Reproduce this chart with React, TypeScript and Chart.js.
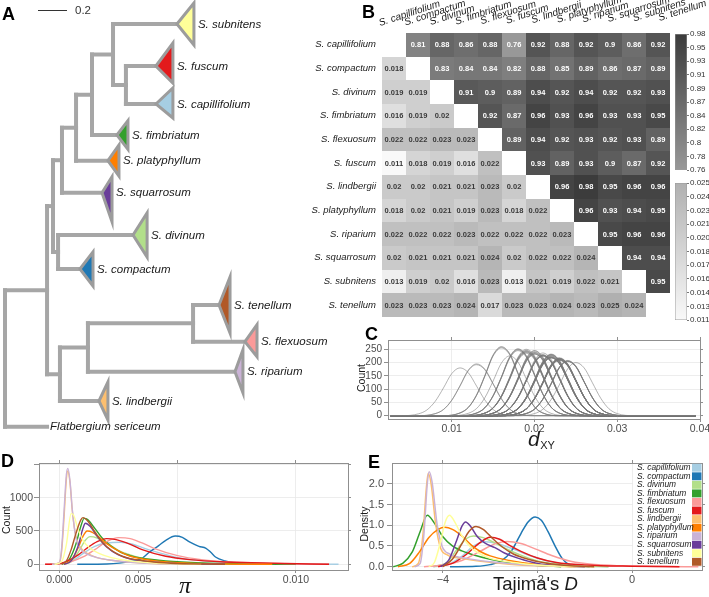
import React, { useEffect, useRef } from "react";
import { Chart, registerables } from "chart.js";

Chart.register(...registerables);

const SANS = '"Liberation Sans", Arial, Helvetica, sans-serif';
const SERIF = '"Liberation Serif", "DejaVu Serif", serif';
const TICK_TEXT = "#4d4d4d";
const FRAME = "#8f8f8f";
const GRID = "#e8e8e8";
const TREE_GREY = "#a6a6a6";
const TRI_GREY = "#9c9c9c";
Chart.defaults.font.family = SANS;

// ---------------- shared data ----------------
const species = [
  "S. capillifolium", "S. compactum", "S. divinum", "S. fimbriatum", "S. flexuosum", "S. fuscum",
  "S. lindbergii", "S. platyphyllum", "S. riparium", "S. squarrosum", "S. subnitens", "S. tenellum",
];
const speciesColors = [
  "#A6CEE3", "#1F78B4", "#B2DF8A", "#33A02C", "#FB9A99", "#E31A1C",
  "#FDBF6F", "#FF7F00", "#CAB2D6", "#6A3D9A", "#FFFF99", "#B15928",
];

// ---------------- panel A: tree ----------------
// [child, parent, branch length]
const treeEdges: [string, string, number][] = [
  ["Flatbergium sericeum", "root", 0.29],
  ["n1", "root", 0.29],
  ["n2", "n1", 0.041],
  ["n9", "n1", 0.089],
  ["n3", "n2", 0.035],
  ["n4", "n2", 0.062],
  ["S. divinum", "n3", 0.517],
  ["S. compactum", "n3", 0.151],
  ["S. squarrosum", "n4", 0.276],
  ["n5", "n4", 0.097],
  ["S. platyphyllum", "n5", 0.22],
  ["n6", "n5", 0.11],
  ["S. fimbriatum", "n6", 0.172],
  ["n7", "n6", 0.145],
  ["S. subnitens", "n7", 0.441],
  ["n8", "n7", 0.089],
  ["S. fuscum", "n8", 0.207],
  ["S. capillifolium", "n8", 0.207],
  ["S. lindbergii", "n9", 0.269],
  ["n10", "n9", 0.193],
  ["S. riparium", "n10", 1.014],
  ["n11", "n10", 0.725],
  ["S. tenellum", "n11", 0.179],
  ["S. flexuosum", "n11", 0.358],
];
const tipOrder = [
  "S. subnitens", "S. fuscum", "S. capillifolium", "S. fimbriatum", "S. platyphyllum", "S. squarrosum",
  "S. divinum", "S. compactum", "S. tenellum", "S. flexuosum", "S. riparium", "S. lindbergii", "Flatbergium sericeum",
];
const tipRows = [2.4, 6.6, 10.4, 13.5, 16.07, 19.27, 23.5, 26.9, 30.5, 34.17, 37.17, 40.1, 42.67];
const cladeDepth = [0.117, 0.117, 0.117, 0.076, 0.076, 0.069, 0.097, 0.09, 0.076, 0.083, 0.055, 0.062];
const cladeUp = [2.1, 2.3, 1.6, 1.43, 1.57, 1.6, 2.2, 1.7, 2.8, 1.7, 2.2, 1.9];
const cladeDown = [2.1, 1.7, 1.4, 1.43, 1.53, 2.9, 2.2, 1.7, 2.8, 1.5, 2.1, 1.9];
const scaleBarLength = 0.2;

// ---------------- panel B: matrix ----------------
const upperValues: number[][] = [
  [0.81, 0.88, 0.86, 0.88, 0.76, 0.92, 0.88, 0.92, 0.9, 0.86, 0.92],
  [0.83, 0.84, 0.84, 0.82, 0.88, 0.85, 0.89, 0.86, 0.87, 0.89],
  [0.91, 0.9, 0.89, 0.94, 0.92, 0.94, 0.92, 0.92, 0.93],
  [0.92, 0.87, 0.96, 0.93, 0.96, 0.93, 0.93, 0.95],
  [0.89, 0.94, 0.92, 0.93, 0.92, 0.93, 0.89],
  [0.93, 0.89, 0.93, 0.9, 0.87, 0.92],
  [0.96, 0.98, 0.95, 0.96, 0.96],
  [0.96, 0.93, 0.94, 0.95],
  [0.95, 0.96, 0.96],
  [0.94, 0.94],
  [0.95],
  [],
];
const lowerValues: number[][] = [
  [],
  [0.018],
  [0.019, 0.019],
  [0.016, 0.019, 0.02],
  [0.022, 0.022, 0.023, 0.023],
  [0.011, 0.018, 0.019, 0.016, 0.022],
  [0.02, 0.02, 0.021, 0.021, 0.023, 0.02],
  [0.018, 0.02, 0.021, 0.019, 0.023, 0.018, 0.022],
  [0.022, 0.022, 0.022, 0.023, 0.022, 0.022, 0.022, 0.023],
  [0.02, 0.021, 0.021, 0.021, 0.024, 0.02, 0.022, 0.022, 0.024],
  [0.013, 0.019, 0.02, 0.016, 0.023, 0.013, 0.021, 0.019, 0.022, 0.021],
  [0.023, 0.023, 0.023, 0.024, 0.017, 0.023, 0.023, 0.024, 0.023, 0.025, 0.024],
];
const upperRange = [0.76, 0.98];
const lowerRange = [0.011, 0.025];
const upperBarLabels = ["0.76", "0.78", "0.8", "0.82", "0.84", "0.87", "0.89", "0.91", "0.93", "0.95", "0.98"];
const lowerBarLabels = ["0.011", "0.013", "0.014", "0.016", "0.017", "0.018", "0.020", "0.021", "0.023", "0.024", "0.025"];

// ---------------- panel C: dXY distributions ----------------
const dxyPeakCounts: number[][] = [
  [],
  [245],
  [240, 250],
  [258, 235, 245],
  [220, 230, 210, 215],
  [180, 248, 238, 255, 225],
  [240, 232, 228, 236, 212, 244],
  [250, 236, 226, 246, 210, 252, 222],
  [226, 218, 230, 214, 222, 228, 232, 216],
  [234, 230, 224, 226, 205, 238, 220, 218, 208],
  [195, 242, 232, 260, 212, 192, 228, 244, 218, 226],
  [214, 208, 216, 206, 225, 212, 218, 204, 210, 200, 206],
];
const dxyProfileOffsets = [-0.007, -0.005, -0.004, -0.003, -0.002, -0.001, 0, 0.001, 0.002, 0.003, 0.004, 0.005, 0.007];
const dxyProfileShape = [0, 0.04, 0.12, 0.3, 0.58, 0.88, 1, 0.9, 0.62, 0.33, 0.13, 0.04, 0];
const dxyBaseline = [0.0026, 0.0395];
const dxyTicks = [0.01, 0.02, 0.03, 0.04];
const dxyTickLabels = ["0.01", "0.02", "0.03", "0.04"];
const dxyCountTicks = [0, 50, 100, 150, 200, 250];
const dxyCountLabels = ["0", "50", "100", "150", "200", "250"];

// ---------------- panel D: pi ----------------
const piCurves: number[][][] = [
  [[-0.0004, 0], [0.0002, 10], [0.0006, 60], [0.001, 160], [0.0015, 270], [0.002, 320], [0.0026, 330], [0.0031, 300], [0.0036, 240], [0.0042, 175], [0.005, 100], [0.006, 55], [0.0075, 25], [0.009, 10], [0.0118, 0]],
  [[0.00076, 0], [0.002, 5], [0.003, 40], [0.0035, 90], [0.0038, 180], [0.0042, 280], [0.0045, 360], [0.0049, 424], [0.0052, 405], [0.0055, 335], [0.0059, 270], [0.0062, 240], [0.0064, 180], [0.0066, 110], [0.007, 50], [0.0075, 15], [0.008, 5], [0.009, 0]],
  [[0.0002, 0], [0.0005, 40], [0.0008, 180], [0.0011, 360], [0.0013, 415], [0.0016, 395], [0.002, 320], [0.0025, 210], [0.003, 140], [0.0035, 90], [0.0045, 40], [0.006, 15], [0.008, 0]],
  [[0.0001, 0], [0.0004, 60], [0.0007, 300], [0.0009, 560], [0.00105, 690], [0.0012, 670], [0.0015, 540], [0.0018, 400], [0.0022, 270], [0.0026, 180], [0.003, 130], [0.0035, 90], [0.0045, 50], [0.006, 20], [0.008, 5], [0.01, 0]],
  [[-0.0006, 0], [0, 5], [0.0005, 40], [0.001, 110], [0.0015, 220], [0.002, 340], [0.0025, 400], [0.003, 385], [0.0035, 320], [0.004, 240], [0.005, 130], [0.006, 70], [0.0075, 30], [0.0095, 10], [0.0114, 0]],
  [[-0.0006, 0], [0, 10], [0.0004, 60], [0.0008, 140], [0.0012, 250], [0.0016, 340], [0.002, 385], [0.0024, 370], [0.003, 300], [0.0035, 220], [0.0045, 120], [0.0055, 70], [0.007, 35], [0.009, 15], [0.0114, 0]],
  [[-0.0003, 0], [0, 20], [0.0001, 200], [0.0002, 700], [0.0003, 1280], [0.00036, 1400], [0.00045, 1230], [0.00055, 800], [0.0007, 420], [0.0009, 250], [0.0012, 160], [0.0016, 100], [0.0022, 60], [0.003, 30], [0.004, 12], [0.0055, 0]],
  [[0.0002, 0], [0.0005, 60], [0.0008, 250], [0.001, 420], [0.00118, 500], [0.0014, 480], [0.0017, 400], [0.002, 310], [0.0025, 200], [0.003, 120], [0.004, 55], [0.005, 25], [0.007, 5], [0.009, 0]],
  [[-0.0003, 0], [0, 20], [0.0001, 250], [0.0002, 800], [0.0003, 1350], [0.00036, 1440], [0.00045, 1260], [0.00055, 820], [0.0007, 400], [0.0009, 230], [0.0012, 150], [0.0016, 100], [0.0022, 60], [0.003, 30], [0.004, 10], [0.005, 0]],
  [[0.0002, 0], [0.0005, 50], [0.0008, 280], [0.001, 540], [0.0011, 617], [0.0013, 570], [0.0016, 420], [0.002, 260], [0.0025, 140], [0.003, 80], [0.004, 30], [0.005, 10], [0.007, 0]],
  [[-0.0002, 0], [0.0001, 40], [0.0003, 300], [0.0005, 760], [0.0006, 740], [0.0008, 520], [0.001, 360], [0.0013, 240], [0.0017, 160], [0.0022, 100], [0.003, 50], [0.004, 20], [0.006, 0]],
  [[0.0001, 0], [0.0003, 50], [0.0005, 220], [0.0007, 460], [0.0009, 660], [0.001, 700], [0.0012, 650], [0.0015, 490], [0.0018, 340], [0.0022, 210], [0.0026, 130], [0.003, 85], [0.004, 35], [0.005, 12], [0.007, 0]],
];
const piTopTicks = [0, 0.005, 0.01];
const piBottomTickValues = [0, 0.00333, 0.01];
const piBottomTickLabels = ["0.000", "0.005", "0.010"];
const piCountTicks = [0, 500, 1000, 1500];
const piCountLabels = ["0", "500", "1000", ""];

// ---------------- panel E: Tajima's D ----------------
const tajimaCurves: number[][][] = [
  [[-4.2, 0], [-3.9, 0.05], [-3.6, 0.25], [-3.35, 0.5], [-3.1, 0.6], [-2.85, 0.56], [-2.5, 0.42], [-2.2, 0.28], [-1.8, 0.14], [-1.4, 0.05], [-1.0, 0.015], [-0.5, 0]],
  [[-3.85, 0], [-3.3, 0.01], [-3.0, 0.05], [-2.75, 0.15], [-2.55, 0.38], [-2.35, 0.8], [-2.2, 1.08], [-2.05, 1.2], [-1.92, 1.12], [-1.78, 0.85], [-1.62, 0.48], [-1.48, 0.2], [-1.35, 0.06], [-1.15, 0.01], [-0.9, 0]],
  [[-4.2, 0], [-3.9, 0.12], [-3.7, 0.42], [-3.5, 0.68], [-3.35, 0.74], [-3.15, 0.7], [-2.95, 0.6], [-2.7, 0.45], [-2.4, 0.3], [-2.0, 0.14], [-1.5, 0.05], [-1.0, 0.01], [-0.5, 0]],
  [[-5.05, 0], [-4.85, 0.08], [-4.65, 0.35], [-4.48, 0.85], [-4.33, 1.24], [-4.18, 1.05], [-4.0, 0.72], [-3.8, 0.5], [-3.6, 0.38], [-3.4, 0.3], [-3.0, 0.18], [-2.5, 0.08], [-2.0, 0.03], [-1.5, 0]],
  [[-4.4, 0], [-4.0, 0.04], [-3.6, 0.15], [-3.2, 0.38], [-2.9, 0.55], [-2.65, 0.61], [-2.35, 0.56], [-2.05, 0.43], [-1.7, 0.27], [-1.3, 0.13], [-0.8, 0.05], [-0.2, 0.02], [0.6, 0.005], [1.4, 0]],
  [[-4.1, 0], [-3.8, 0.08], [-3.5, 0.3], [-3.25, 0.55], [-3.0, 0.71], [-2.8, 0.66], [-2.6, 0.52], [-2.35, 0.37], [-2.0, 0.21], [-1.6, 0.1], [-1.0, 0.04], [0, 0.01], [1.0, 0]],
  [[-4.65, 0], [-4.52, 0.08], [-4.42, 0.8], [-4.35, 1.9], [-4.31, 2.25], [-4.25, 2.0], [-4.15, 1.0], [-4.05, 0.45], [-3.9, 0.28], [-3.6, 0.2], [-3.2, 0.13], [-2.6, 0.06], [-2.0, 0.02], [-1.2, 0]],
  [[-4.95, 0], [-4.7, 0.08], [-4.5, 0.35], [-4.3, 0.7], [-4.1, 0.9], [-3.96, 0.95], [-3.8, 0.9], [-3.6, 0.74], [-3.4, 0.52], [-3.2, 0.36], [-3.0, 0.26], [-2.6, 0.15], [-2.0, 0.05], [-1.4, 0.01], [-1.0, 0]],
  [[-4.6, 0], [-4.48, 0.08], [-4.4, 0.8], [-4.33, 2.0], [-4.29, 2.29], [-4.23, 2.05], [-4.12, 1.0], [-4.02, 0.5], [-3.85, 0.3], [-3.5, 0.2], [-3.0, 0.12], [-2.4, 0.06], [-1.8, 0.02], [-1.0, 0]],
  [[-4.05, 0], [-3.88, 0.15], [-3.72, 0.6], [-3.6, 0.97], [-3.52, 1.08], [-3.42, 0.98], [-3.27, 0.72], [-3.1, 0.56], [-2.9, 0.46], [-2.7, 0.33], [-2.4, 0.2], [-2.0, 0.08], [-1.5, 0.02], [-1.0, 0]],
  [[-4.3, 0], [-4.18, 0.1], [-4.05, 0.6], [-3.95, 1.08], [-3.86, 1.24], [-3.76, 1.1], [-3.6, 0.75], [-3.4, 0.45], [-3.2, 0.3], [-3.0, 0.2], [-2.5, 0.1], [-2.0, 0.04], [-1.4, 0.01], [-0.8, 0]],
  [[-4.0, 0], [-3.8, 0.18], [-3.6, 0.55], [-3.45, 0.85], [-3.3, 0.97], [-3.15, 0.9], [-2.95, 0.68], [-2.75, 0.48], [-2.5, 0.3], [-2.2, 0.18], [-1.8, 0.08], [-1.3, 0.02], [-0.8, 0]],
];
const tajimaTicks = [-4, -2, 0];
const tajimaTickLabels = ["\u22124", "\u22122", "0"];
const densityTicks = [0, 0.5, 1, 1.5, 2];
const densityLabels = ["0.0", "0.5", "1.0", "1.5", "2.0"];

// ---------------- tree layout from edges ----------------
const nodeX: Record<string, number> = { root: 0 };
const children: Record<string, string[]> = {};
for (const [c, p, len] of treeEdges) {
  nodeX[c] = nodeX[p] + len;
  (children[p] = children[p] || []).push(c);
}
const nodeY: Record<string, number> = {};
tipOrder.forEach((t, i) => (nodeY[t] = tipRows[i]));
function yOf(n: string): number {
  if (nodeY[n] !== undefined) return nodeY[n];
  const ys = children[n].map(yOf);
  nodeY[n] = (Math.min(...ys) + Math.max(...ys)) / 2;
  return nodeY[n];
}
yOf("root");
const treeSegments: { x: number; y: number }[][] = [];
for (const [c, p] of treeEdges) treeSegments.push([{ x: nodeX[p], y: nodeY[c] }, { x: nodeX[c], y: nodeY[c] }]);
for (const p of Object.keys(children)) {
  const ys = children[p].map((c) => nodeY[c]);
  treeSegments.push([{ x: nodeX[p], y: Math.min(...ys) }, { x: nodeX[p], y: Math.max(...ys) }]);
}

// ---------------- helpers ----------------
type TextItem = { t: string; x: number; y: number; font: string; color?: string; align?: CanvasTextAlign; base?: CanvasTextBaseline; rot?: number };
function drawTexts(ctx: CanvasRenderingContext2D, items: TextItem[]) {
  for (const it of items) {
    ctx.save();
    ctx.translate(it.x, it.y);
    if (it.rot) ctx.rotate(it.rot);
    ctx.font = it.font;
    ctx.fillStyle = it.color || "#1a1a1a";
    ctx.textAlign = it.align || "left";
    ctx.textBaseline = it.base || "alphabetic";
    ctx.fillText(it.t, 0, 0);
    ctx.restore();
  }
}
function textPlugin(items: TextItem[], extra?: (ctx: CanvasRenderingContext2D) => void) {
  return {
    id: "texts",
    afterDraw(chart: any) {
      drawTexts(chart.ctx, items);
      if (extra) extra(chart.ctx);
    },
  };
}
function grey(v: number) {
  const c = Math.round(v);
  return `rgb(${c},${c},${c})`;
}
function upperColor(v: number) {
  const t = (v - upperRange[0]) / (upperRange[1] - upperRange[0]);
  return grey(152 - t * 92);
}
function lowerColor(v: number) {
  const t = (v - lowerRange[0]) / (lowerRange[1] - lowerRange[0]);
  return grey(249 - t * 73);
}

function linAxis(o: any) {
  const vertical = o.position === "left" || o.position === "right";
  return {
    type: "linear",
    axis: vertical ? "y" : "x",
    position: o.position,
    min: o.min,
    max: o.max,
    afterBuildTicks: (s: any) => {
      s.ticks = o.ticks.map((v: number) => ({ value: v }));
    },
    afterFit: (s: any) => {
      if (vertical) s.width = o.size;
      else s.height = o.size;
      s.paddingLeft = 0;
      s.paddingRight = 0;
      s.paddingTop = 0;
      s.paddingBottom = 0;
    },
    ticks: {
      display: !!o.labels,
      autoSkip: false,
      maxRotation: 0,
      minRotation: 0,
      padding: o.padding ?? 2,
      color: TICK_TEXT,
      font: { family: SANS, size: o.fontSize ?? 10 },
      callback: (_v: any, i: number) => (o.labels ? o.labels[i] : ""),
    },
    grid: {
      drawOnChartArea: !!o.grid,
      color: GRID,
      lineWidth: 0.8,
      drawTicks: true,
      tickLength: o.tickLength ?? 4,
      tickColor: FRAME,
      tickWidth: 1,
    },
    border: { display: true, color: FRAME, width: 1 },
  };
}
function baseOptions(extra: any) {
  return {
    responsive: false,
    maintainAspectRatio: false,
    animation: false,
    devicePixelRatio: 1,
    events: [],
    plugins: { legend: { display: false }, tooltip: { enabled: false }, title: { display: false } },
    ...extra,
  };
}
const LETTER = `bold 18px ${SANS}`;

// ---------------- chart factories ----------------
function makeTree() {
  const datasets = treeSegments.map((seg) => ({
    data: seg,
    showLine: true,
    borderColor: TREE_GREY,
    borderWidth: 4,
    borderCapStyle: "square",
    pointRadius: 0,
    fill: false,
  }));
  const decor = {
    id: "treeDecor",
    afterDatasetsDraw(chart: any) {
      const { ctx, scales } = chart;
      const xs = scales.x;
      const ys = scales.y;
      ctx.save();
      tipOrder.forEach((tip, k) => {
        const x0 = xs.getPixelForValue(nodeX[tip]);
        const y0 = ys.getPixelForValue(nodeY[tip]);
        let labelX = x0 + 3;
        if (k < cladeDepth.length) {
          const x1 = xs.getPixelForValue(nodeX[tip] + cladeDepth[k]);
          const yt = ys.getPixelForValue(nodeY[tip] - cladeUp[k]);
          const yb = ys.getPixelForValue(nodeY[tip] + cladeDown[k]);
          ctx.beginPath();
          ctx.moveTo(x0, y0);
          ctx.lineTo(x1, yt);
          ctx.lineTo(x1, yb);
          ctx.closePath();
          ctx.fillStyle = speciesColors[species.indexOf(tip)];
          ctx.fill();
          ctx.lineWidth = 3;
          ctx.lineJoin = "miter";
          ctx.strokeStyle = TRI_GREY;
          ctx.stroke();
          labelX = x1 + 4;
        }
        ctx.font = `italic 11.5px ${SANS}`;
        ctx.fillStyle = "#1a1a1a";
        ctx.textAlign = "left";
        ctx.textBaseline = "middle";
        ctx.fillText(tip, labelX, y0 + 0.5);
      });
      // scale bar
      const len = xs.getPixelForValue(scaleBarLength) - xs.getPixelForValue(0);
      ctx.beginPath();
      ctx.moveTo(38, 10.5);
      ctx.lineTo(38 + len, 10.5);
      ctx.lineWidth = 1;
      ctx.strokeStyle = "#333";
      ctx.stroke();
      ctx.font = `11.5px ${SANS}`;
      ctx.fillStyle = "#333";
      ctx.textBaseline = "middle";
      ctx.fillText(String(scaleBarLength), 38 + len + 8, 11);
      ctx.restore();
    },
  };
  return {
    type: "scatter",
    data: { datasets },
    options: baseOptions({
      layout: { padding: 0, autoPadding: false },
      scales: {
        x: { type: "linear", min: -0.0345, max: 2.2414, display: false },
        y: { type: "linear", min: 0, max: 44, reverse: true, display: false },
      },
    }),
    plugins: [decor, textPlugin([{ t: "A", x: 2, y: 20, font: LETTER, color: "#000" }])],
  };
}

function makeHeat() {
  const cells: any[] = [];
  upperValues.forEach((row, i) => row.forEach((v, k) => cells.push({ x: i + 1 + k, y: i, v, upper: true })));
  lowerValues.forEach((row, i) => row.forEach((v, j) => cells.push({ x: j, y: i, v, upper: false })));
  const heat = {
    id: "heat",
    afterDatasetsDraw(chart: any) {
      const { ctx, scales, chartArea } = chart;
      const xs = scales.x;
      const ys = scales.y;
      const data = chart.data.datasets[0].data;
      ctx.save();
      for (const c of data) {
        const l = Math.round(xs.getPixelForValue(c.x - 0.5));
        const r = Math.round(xs.getPixelForValue(c.x + 0.5));
        const t = Math.round(ys.getPixelForValue(c.y - 0.5));
        const b = Math.round(ys.getPixelForValue(c.y + 0.5));
        ctx.fillStyle = c.upper ? upperColor(c.v) : lowerColor(c.v);
        ctx.fillRect(l, t, r - l, b - t);
      }
      ctx.font = `bold 7.5px ${SANS}`;
      ctx.textAlign = "center";
      ctx.textBaseline = "middle";
      for (const c of data) {
        ctx.fillStyle = c.upper ? "#ffffff" : "#3a3a3a";
        ctx.fillText(String(c.v), xs.getPixelForValue(c.x), ys.getPixelForValue(c.y) + 0.5);
      }
      ctx.font = `italic 9.5px ${SANS}`;
      ctx.fillStyle = "#1a1a1a";
      ctx.textAlign = "right";
      species.forEach((s, i) => ctx.fillText(s, chartArea.left - 6, ys.getPixelForValue(i)));
      ctx.textAlign = "left";
      ctx.textBaseline = "alphabetic";
      ctx.font = `italic 10px ${SANS}`;
      species.forEach((s, j) => {
        ctx.save();
        ctx.translate(xs.getPixelForValue(j) - 14 + 1.4 * j, 26 - 0.45 * j);
        ctx.rotate((-18 * Math.PI) / 180);
        ctx.fillText(s, 0, 0);
        ctx.restore();
      });
      ctx.restore();
    },
  };
  return {
    type: "scatter",
    data: { datasets: [{ data: cells, pointRadius: 0 }] },
    options: baseOptions({
      layout: { padding: { left: 82, right: 39, top: 33, bottom: 8 }, autoPadding: false },
      scales: {
        x: { type: "linear", min: -0.5, max: 11.5, display: false },
        y: { type: "linear", min: -0.5, max: 11.5, reverse: true, display: false },
      },
    }),
    plugins: [heat, textPlugin([{ t: "B", x: 62, y: 18, font: LETTER, color: "#000" }])],
  };
}

function makeColorBar(range: number[], labels: string[], dark: number, light: number) {
  return {
    type: "bar",
    data: {
      labels: [""],
      datasets: [
        {
          data: [[range[0], range[1]]],
          backgroundColor: (c: any) => {
            const ch = c.chart;
            if (!ch.chartArea) return grey(light);
            const ys = ch.scales.y;
            const g = ch.ctx.createLinearGradient(0, ys.getPixelForValue(range[1]), 0, ys.getPixelForValue(range[0]));
            g.addColorStop(0, grey(dark));
            g.addColorStop(1, grey(light));
            return g;
          },
          borderColor: "#9a9a9a",
          borderWidth: 0.8,
          borderSkipped: false,
          barPercentage: 1,
          categoryPercentage: 1,
        },
      ],
    },
    options: baseOptions({
      layout: { padding: { left: 6, top: 8, bottom: 8, right: 0 }, autoPadding: false },
      scales: {
        x: { type: "category", display: false },
        y: {
          type: "linear",
          position: "right",
          min: range[0],
          max: range[1],
          afterBuildTicks: (s: any) => {
            s.ticks = labels.map((_, i) => ({ value: range[0] + (i * (range[1] - range[0])) / (labels.length - 1) }));
          },
          afterFit: (s: any) => {
            s.width = 22;
            s.paddingTop = 0;
            s.paddingBottom = 0;
          },
          ticks: {
            callback: (_v: any, i: number) => labels[i],
            font: { family: SANS, size: 8 },
            color: "#333",
            padding: 1,
            autoSkip: false,
          },
          grid: { drawOnChartArea: false, tickLength: 2, tickColor: "#777" },
          border: { display: false },
        },
      },
    }),
  };
}

function makeDxy() {
  const datasets: any[] = [];
  lowerValues.forEach((row, i) =>
    row.forEach((center, j) => {
      const peak = dxyPeakCounts[i][j];
      const pts = [{ x: dxyBaseline[0], y: 0 }];
      dxyProfileOffsets.forEach((o, k) => pts.push({ x: center + o, y: peak * dxyProfileShape[k] }));
      pts.push({ x: dxyBaseline[1], y: 0 });
      datasets.push({
        data: pts,
        showLine: true,
        borderColor: "rgba(120,120,120,0.7)",
        borderWidth: 0.8,
        pointRadius: 0,
        cubicInterpolationMode: "monotone",
      });
    })
  );
  const xr = { min: 0.0023, max: 0.04 };
  const yr = { min: -12.4, max: 285 };
  return {
    type: "scatter",
    data: { datasets },
    options: baseOptions({
      layout: { padding: 0, autoPadding: false },
      scales: {
        x: linAxis({ position: "bottom", ...xr, ticks: dxyTicks, labels: dxyTickLabels, size: 33, grid: true, fontSize: 10.5, tickLength: 3, padding: 1 }),
        x2: linAxis({ position: "top", ...xr, ticks: dxyTicks, labels: null, size: 18, grid: false, tickLength: 3 }),
        y: linAxis({ position: "left", ...yr, ticks: dxyCountTicks, labels: dxyCountLabels, size: 88, grid: true, fontSize: 10, tickLength: 4, padding: 2 }),
        y2: linAxis({ position: "right", ...yr, ticks: dxyCountTicks, labels: null, size: 9, grid: false, tickLength: 3 }),
      },
    }),
    plugins: [
      textPlugin(
        [
          { t: "C", x: 65, y: 18, font: LETTER, color: "#000" },
          { t: "Count", x: 62, y: 56, font: `10.5px ${SANS}`, align: "center", base: "middle", rot: -Math.PI / 2 },
        ],
        (ctx) => {
          ctx.save();
          ctx.fillStyle = "#1a1a1a";
          ctx.font = `italic 21px ${SANS}`;
          ctx.textBaseline = "alphabetic";
          ctx.fillText("d", 228, 124);
          const w = ctx.measureText("d").width;
          ctx.font = `11px ${SANS}`;
          ctx.fillText("XY", 228 + w + 0.5, 127);
          ctx.restore();
        }
      ),
    ],
  };
}

function curveDatasets(curves: number[][][], width: number) {
  return curves.map((pts, i) => ({
    label: species[i],
    data: pts.map(([x, y]) => ({ x, y })),
    showLine: true,
    borderColor: speciesColors[i],
    borderWidth: width,
    pointRadius: 0,
    cubicInterpolationMode: "monotone",
    order: -i,
  }));
}

function makePi() {
  const xr = { min: -0.000858, max: 0.0122 };
  const yr = { min: -86, max: 1521 };
  return {
    type: "scatter",
    data: { datasets: curveDatasets(piCurves, 1.4) },
    options: baseOptions({
      layout: { padding: 0, autoPadding: false },
      scales: {
        x: linAxis({ position: "bottom", ...xr, ticks: piBottomTickValues, labels: piBottomTickLabels, size: 27, grid: false, fontSize: 10.5, tickLength: 3, padding: 1 }),
        x2: linAxis({ position: "top", ...xr, ticks: piTopTicks, labels: null, size: 13, grid: true, tickLength: 3 }),
        y: linAxis({ position: "left", ...yr, ticks: piCountTicks, labels: piCountLabels, size: 39, grid: true, fontSize: 10.5, tickLength: 5, padding: 1 }),
        y2: linAxis({ position: "right", ...yr, ticks: piCountTicks, labels: null, size: 4, grid: false, tickLength: 3 }),
      },
    }),
    plugins: [
      textPlugin([
        { t: "D", x: 1, y: 17, font: LETTER, color: "#000" },
        { t: "Count", x: 7, y: 70, font: `10.5px ${SANS}`, align: "center", base: "middle", rot: -Math.PI / 2 },
        { t: "\u03C0", x: 185, y: 143, font: `italic 24px ${SERIF}`, align: "center" },
      ]),
    ],
  };
}

function makeTajima() {
  const xr = { min: -5.076, max: 1.477 };
  const yr = { min: -0.08, max: 2.5 };
  const legend = {
    id: "tajimaLegend",
    afterDatasetsDraw(chart: any) {
      const { ctx, chartArea } = chart;
      const right = chartArea.right;
      ctx.save();
      ctx.fillStyle = "#ffffff";
      ctx.fillRect(right - 69, chartArea.top + 1, 68.5, 99);
      ctx.font = `italic 8.4px ${SANS}`;
      ctx.textBaseline = "middle";
      ctx.textAlign = "left";
      species.forEach((s, i) => {
        const y = chartArea.top + 4.7 + i * 8.55;
        ctx.fillStyle = speciesColors[i];
        ctx.fillRect(right - 10, y - 3.9, 9.5, 7.9);
        ctx.fillStyle = "#1a1a1a";
        ctx.fillText(s, right - 65, y);
      });
      ctx.restore();
    },
  };
  return {
    type: "scatter",
    data: { datasets: curveDatasets(tajimaCurves, 1.5) },
    options: baseOptions({
      layout: { padding: 0, autoPadding: false },
      scales: {
        x: linAxis({ position: "bottom", ...xr, ticks: tajimaTicks, labels: tajimaTickLabels, size: 27, grid: true, fontSize: 11, tickLength: 3, padding: 0 }),
        x2: linAxis({ position: "top", ...xr, ticks: tajimaTicks, labels: null, size: 13, grid: false, tickLength: 3 }),
        y: linAxis({ position: "left", ...yr, ticks: densityTicks, labels: densityLabels, size: 42, grid: true, fontSize: 11, tickLength: 5, padding: 3 }),
        y2: linAxis({ position: "right", ...yr, ticks: densityTicks, labels: null, size: 7, grid: false, tickLength: 3 }),
      },
    }),
    plugins: [
      legend,
      textPlugin(
        [
          { t: "E", x: 18, y: 18, font: LETTER, color: "#000" },
          { t: "Density", x: 15, y: 74, font: `10.5px ${SANS}`, align: "center", base: "middle", rot: -Math.PI / 2 },
        ],
        (ctx) => {
          ctx.save();
          ctx.fillStyle = "#1a1a1a";
          ctx.textBaseline = "alphabetic";
          ctx.font = `18.5px ${SANS}`;
          const txt = "Tajima's ";
          ctx.fillText(txt, 143, 140);
          const w = ctx.measureText(txt).width;
          ctx.font = `italic 18.5px ${SANS}`;
          ctx.fillText("D", 143 + w, 140);
          ctx.restore();
        }
      ),
    ],
  };
}

// ---------------- components ----------------
function ChartCanvas(props: { left: number; top: number; width: number; height: number; make: () => any }) {
  const ref = useRef<HTMLCanvasElement | null>(null);
  useEffect(() => {
    if (!ref.current) return;
    const chart = new Chart(ref.current, props.make());
    return () => chart.destroy();
  }, []);
  return (
    <canvas
      ref={ref}
      width={props.width}
      height={props.height}
      style={{ position: "absolute", left: props.left, top: props.top, width: props.width, height: props.height }}
    />
  );
}

export default function App() {
  useEffect(() => {
    document.body.style.margin = "0";
  }, []);
  return (
    <div style={{ position: "absolute", left: 0, top: 0, width: 709, height: 597, overflow: "hidden", background: "#ffffff" }}>
      <ChartCanvas left={0} top={0} width={330} height={440} make={makeTree} />
      <ChartCanvas left={300} top={0} width={409} height={325} make={makeHeat} />
      <ChartCanvas left={669} top={26} width={40} height={152} make={() => makeColorBar(upperRange, upperBarLabels, 60, 152)} />
      <ChartCanvas left={669} top={175} width={40} height={153} make={() => makeColorBar(lowerRange, lowerBarLabels, 176, 249)} />
      <ChartCanvas left={300} top={322} width={409} height={130} make={makeDxy} />
      <ChartCanvas left={0} top={450} width={352} height={147} make={makePi} />
      <ChartCanvas left={350} top={450} width={359} height={147} make={makeTajima} />
    </div>
  );
}
